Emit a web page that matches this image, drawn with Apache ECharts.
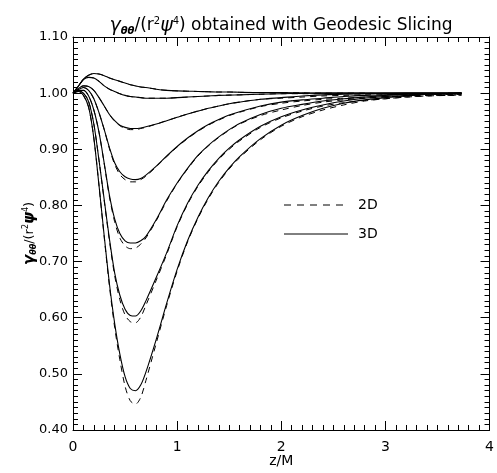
<!DOCTYPE html>
<html><head><meta charset="utf-8">
<script src="https://cdn.jsdelivr.net/npm/echarts@6/dist/echarts.min.js"></script>
<style>html,body{margin:0;padding:0;background:#fff}#c{width:497px;height:473px}</style>
</head><body><div id="c"></div>
<script>
var xs = [0,0.05,0.1,0.15,0.2,0.25,0.3,0.35,0.4,0.45,0.5,0.55,0.6,0.65,0.7,0.8,0.9,1.0,1.1,1.2,1.3,1.4,1.5,1.6,1.8,2.0,2.2,2.4,2.6,2.8,3.0,3.2,3.4,3.6,3.73];

var c1_3d = [1.000,1.012,1.025,1.032,1.035,1.034,1.031,1.027,1.024,1.021,1.018,1.015,1.013,1.011,1.010,1.007,1.005,1.004,1.0035,1.003,1.0025,1.002,1.002,1.0015,1.001,1.001,1.0005,1.000,1.000,1.000,1.000,1.000,1.000,1.000,1.000];
var c1_2d = [1.000,1.012,1.025,1.032,1.035,1.034,1.031,1.027,1.024,1.021,1.018,1.015,1.013,1.011,1.010,1.007,1.005,1.004,1.0035,1.003,1.0025,1.002,1.002,1.0015,1.001,1.001,1.0005,1.000,1.000,1.000,0.999,0.999,0.999,0.999,0.999];
var c2_3d = [1.000,1.012,1.024,1.028,1.027,1.021,1.013,1.007,1.003,0.999,0.996,0.994,0.993,0.992,0.991,0.991,0.991,0.992,0.993,0.994,0.995,0.996,0.9965,0.997,0.998,0.999,0.9995,1.000,1.000,1.000,1.000,1.000,1.000,1.000,1.000];
var c2_2d = [1.000,1.012,1.024,1.028,1.027,1.021,1.013,1.007,1.003,0.999,0.996,0.994,0.993,0.992,0.991,0.991,0.991,0.992,0.993,0.994,0.995,0.996,0.9965,0.997,0.998,0.999,0.999,0.999,0.999,0.999,0.999,0.998,0.998,0.998,0.998];
var c3_3d = [1.000,1.008,1.013,1.012,1.005,0.992,0.977,0.962,0.951,0.943,0.939,0.937,0.937,0.938,0.940,0.945,0.951,0.957,0.963,0.968,0.973,0.977,0.981,0.984,0.989,0.992,0.995,0.997,0.998,0.999,0.9995,1.000,1.000,1.000,1.000];
var c3_2d = [1.000,1.008,1.013,1.012,1.005,0.992,0.977,0.962,0.950,0.942,0.937,0.935,0.935,0.937,0.939,0.945,0.951,0.957,0.963,0.968,0.973,0.977,0.981,0.984,0.989,0.991,0.993,0.995,0.996,0.997,0.997,0.998,0.998,0.998,0.998];
var c4_3d = [1.000,1.006,1.010,1.005,0.990,0.965,0.935,0.903,0.876,0.860,0.851,0.847,0.846,0.848,0.854,0.870,0.888,0.905,0.920,0.933,0.944,0.953,0.961,0.967,0.977,0.984,0.988,0.991,0.994,0.996,0.997,0.998,0.999,0.9995,1.000];
var c4_2d = [1.000,1.006,1.010,1.005,0.990,0.965,0.935,0.901,0.873,0.855,0.846,0.842,0.842,0.846,0.852,0.869,0.887,0.904,0.919,0.932,0.943,0.952,0.960,0.966,0.976,0.982,0.986,0.989,0.991,0.993,0.994,0.995,0.996,0.997,0.997];
var c5_3d = [1.000,1.005,1.005,0.995,0.970,0.930,0.875,0.818,0.776,0.750,0.737,0.733,0.733,0.737,0.745,0.775,0.810,0.840,0.866,0.889,0.907,0.922,0.935,0.946,0.962,0.973,0.980,0.986,0.990,0.993,0.996,0.998,0.999,0.9995,1.000];
var c5_2d = [1.000,1.005,1.005,0.995,0.970,0.930,0.874,0.815,0.771,0.742,0.728,0.723,0.724,0.731,0.742,0.773,0.808,0.839,0.865,0.888,0.906,0.921,0.934,0.945,0.960,0.970,0.978,0.984,0.988,0.991,0.993,0.995,0.996,0.997,0.997];
var c6_3d = [1.000,1.004,1.000,0.985,0.945,0.880,0.810,0.740,0.680,0.640,0.615,0.604,0.603,0.612,0.630,0.672,0.716,0.764,0.804,0.836,0.862,0.884,0.902,0.917,0.941,0.958,0.970,0.979,0.986,0.991,0.994,0.996,0.998,0.999,1.000];
var c6_2d = [1.000,1.004,1.000,0.985,0.945,0.880,0.808,0.737,0.675,0.632,0.605,0.593,0.591,0.601,0.622,0.667,0.713,0.762,0.802,0.834,0.860,0.882,0.900,0.915,0.939,0.956,0.968,0.977,0.983,0.987,0.990,0.993,0.995,0.996,0.996];
var c7_3d = [1.000,1.003,0.996,0.975,0.920,0.835,0.745,0.660,0.590,0.535,0.495,0.474,0.470,0.480,0.503,0.562,0.626,0.686,0.737,0.779,0.814,0.843,0.867,0.887,0.919,0.943,0.960,0.973,0.982,0.988,0.992,0.995,0.998,0.999,1.000];
var c7_2d = [1.000,1.003,0.996,0.975,0.920,0.835,0.743,0.656,0.583,0.525,0.478,0.452,0.446,0.458,0.488,0.555,0.622,0.683,0.735,0.777,0.812,0.841,0.865,0.885,0.917,0.941,0.958,0.970,0.979,0.986,0.990,0.993,0.995,0.996,0.997];

var xTicks = [0,1,2,3,4];
var yTickLabels = ['0.40','0.50','0.60','0.70','0.80','0.90','1.00','1.10'];

var curves3d = [c1_3d,c2_3d,c3_3d,c4_3d,c5_3d,c6_3d,c7_3d];
var curves2d = [c1_2d,c2_2d,c3_2d,c4_2d,c5_2d,c6_2d,c7_2d];

function pairs(ys){ return xs.map(function(x,i){return [x, ys[i]];}); }

var series = [];
curves2d.forEach(function(c){
  series.push({type:'line', name:'2D', data:pairs(c), showSymbol:false, smooth:0.3,
    lineStyle:{color:'#000', width:1, type:[6,5]}, silent:true, animation:false});
});
curves3d.forEach(function(c){
  series.push({type:'line', name:'3D', data:pairs(c), showSymbol:false, smooth:0.3,
    lineStyle:{color:'#000', width:1.1, type:'solid'}, silent:true, animation:false});
});

var FONT = 'DejaVu Sans';
function ax(extra){
  var o = {
    axisLine:{show:true, onZero:false, lineStyle:{color:'#000', width:1}},
    axisTick:{show:true, inside:true, length:9, lineStyle:{color:'#000'}},
    minorTick:{show:true, splitNumber:10, length:5, lineStyle:{color:'#000'}},
    splitLine:{show:false}
  };
  for (var k in extra) o[k]=extra[k];
  return o;
}

var chart = echarts.init(document.getElementById('c'), null, {renderer:'canvas'});
chart.setOption({
  backgroundColor:'#fff',
  animation:false,
  title:{
    text:'{g|γ}{s|θθ}{n|/(r}{sup|2}{g|ψ}{sup|4}{n|) obtained with Geodesic Slicing}',
    left:276, textAlign:'center', top:11,
    textStyle:{
      fontWeight:'normal',
      rich:{
        g:{fontFamily:FONT, fontSize:19, fontStyle:'italic', fontWeight:'normal', color:'#000'},
        s:{fontFamily:FONT, fontSize:10, fontStyle:'italic', fontWeight:'bold', color:'#000', padding:[10,0,0,0]},
        n:{fontFamily:FONT, fontSize:17, fontWeight:'normal', color:'#000'},
        sup:{fontFamily:FONT, fontSize:10, fontWeight:'normal', color:'#000', padding:[0,0,10,0]}
      }
    }
  },
  grid:{left:73, right:4, top:37, bottom:38},
  xAxis:[
    ax({type:'value', min:0, max:4, interval:1, position:'bottom',
      axisLabel:{color:'#000', fontFamily:FONT, fontSize:14, margin:10},
      name:'z/M', nameLocation:'middle', nameGap:24, nameMoveOverlap:false,
      nameTextStyle:{color:'#000', fontFamily:FONT, fontSize:14}}),
    ax({type:'value', min:0, max:4, interval:1, position:'top', axisLabel:{show:false}})
  ],
  yAxis:[
    ax({type:'value', min:0.4, max:1.1, interval:0.1, position:'left',
      axisLabel:{color:'#000', fontFamily:FONT, fontSize:13, margin:5,
        formatter:function(v){ var i = Math.round((v-0.4)/0.1); return yTickLabels[i] || ''; }},
      name:'{g|γ}{s|θθ}{n|/(r}{sup|2}{g|ψ}{sup|4}{n|)}', nameLocation:'middle', nameGap:35, nameRotate:90,
      nameMoveOverlap:false,
      nameTextStyle:{rich:{
        g:{fontFamily:FONT, fontSize:15, fontStyle:'italic', fontWeight:'bold', color:'#000'},
        s:{fontFamily:FONT, fontSize:8, fontStyle:'italic', fontWeight:'bold', color:'#000', padding:[8,0,0,0]},
        n:{fontFamily:FONT, fontSize:13, color:'#000'},
        sup:{fontFamily:FONT, fontSize:8, color:'#000', padding:[0,0,8,0]}
      }}}),
    ax({type:'value', min:0.4, max:1.1, interval:0.1, position:'right', axisLabel:{show:false}})
  ],
  series:series,
  graphic:[
    {type:'line', shape:{x1:284, y1:205, x2:348, y2:205}, style:{stroke:'#000', lineWidth:1, lineDash:[7,6]}},
    {type:'text', x:358, y:205, style:{text:'2D', fill:'#000', font:'14px "DejaVu Sans"', verticalAlign:'middle'}},
    {type:'line', shape:{x1:284, y1:234, x2:348, y2:234}, style:{stroke:'#000', lineWidth:1}},
    {type:'text', x:358, y:234, style:{text:'3D', fill:'#000', font:'14px "DejaVu Sans"', verticalAlign:'middle'}}
  ]
});
</script></body></html>
